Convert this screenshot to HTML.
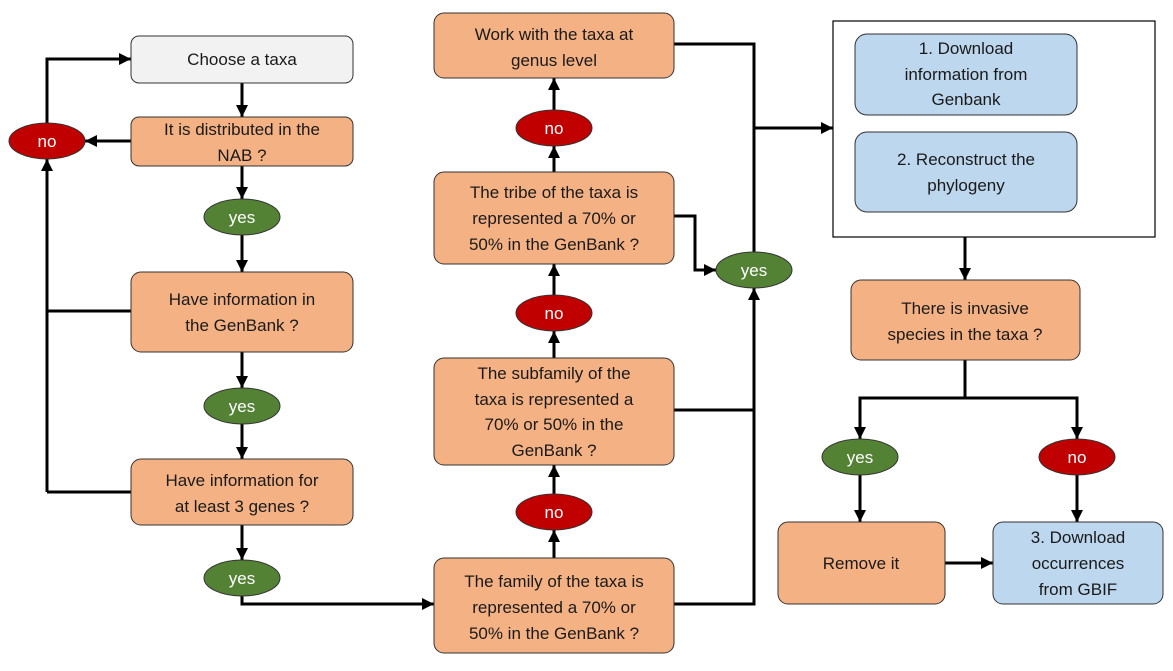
<!DOCTYPE html>
<html><head><meta charset="utf-8"><style>
html,body{margin:0;padding:0;background:#fff;}
svg{display:block;}
text{font-family:"Liberation Sans",sans-serif;font-size:17px;fill:#1a1a1a;text-anchor:middle;}
text.w{fill:#fff;}
</style></head><body>
<svg width="1173" height="671" viewBox="0 0 1173 671" xmlns="http://www.w3.org/2000/svg">
<defs>
<marker id="a" markerWidth="12" markerHeight="12" refX="12" refY="6" orient="auto" markerUnits="userSpaceOnUse">
<path d="M0,0 L12,6 L0,12 z" fill="#000"/></marker>
</defs>
<g fill="none" stroke="#000" stroke-width="3">
<path d="M47,123 V59 H131" marker-end="url(#a)"/>
<path d="M131,141 H85" marker-end="url(#a)"/>
<path d="M47,492 V159" marker-end="url(#a)"/>
<path d="M131,311 H47"/>
<path d="M131,492 H47"/>
<path d="M242,83 V117" marker-end="url(#a)"/>
<path d="M242,166 V199" marker-end="url(#a)"/>
<path d="M242,235 V272" marker-end="url(#a)"/>
<path d="M242,352 V388" marker-end="url(#a)"/>
<path d="M242,424 V459" marker-end="url(#a)"/>
<path d="M242,525 V560" marker-end="url(#a)"/>
<path d="M242,596 V604 H434" marker-end="url(#a)"/>
<path d="M554,558 V530" marker-end="url(#a)"/>
<path d="M554,494 V465" marker-end="url(#a)"/>
<path d="M554,358 V331" marker-end="url(#a)"/>
<path d="M554,295 V264" marker-end="url(#a)"/>
<path d="M554,172 V146" marker-end="url(#a)"/>
<path d="M554,110 V78" marker-end="url(#a)"/>
<path d="M674,604 H754 V288" marker-end="url(#a)"/>
<path d="M674,410 H754"/>
<path d="M674,216 H695 V270 H716" marker-end="url(#a)"/>
<path d="M754,252 V128"/>
<path d="M674,44 H754 V128 H833" marker-end="url(#a)"/>
<path d="M965,237 V280" marker-end="url(#a)"/>
<path d="M965,360 V398 M860,430 V398 H1077 V430" />
<path d="M860,415 V439" marker-end="url(#a)"/>
<path d="M1077,415 V439" marker-end="url(#a)"/>
<path d="M860,475 V522" marker-end="url(#a)"/>
<path d="M1077,475 V522" marker-end="url(#a)"/>
<path d="M945,563 H993" marker-end="url(#a)"/>
</g>
<rect x="833" y="21" width="322" height="216" fill="#fff" stroke="#000" stroke-width="1.2"/>
<g stroke="#333" stroke-width="1">
<rect x="131" y="36" width="222" height="47" rx="8" fill="#f2f2f2"/>
<rect x="131" y="117" width="222" height="49" rx="8" fill="#f4b183"/>
<rect x="131" y="272" width="222" height="80" rx="10" fill="#f4b183"/>
<rect x="131" y="459" width="222" height="66" rx="10" fill="#f4b183"/>
<rect x="434" y="558" width="240" height="95" rx="10" fill="#f4b183"/>
<rect x="434" y="358" width="240" height="107" rx="10" fill="#f4b183"/>
<rect x="434" y="172" width="240" height="92" rx="10" fill="#f4b183"/>
<rect x="434" y="13" width="240" height="65" rx="10" fill="#f4b183"/>
<rect x="855" y="34" width="222" height="81" rx="12" fill="#bdd7ee"/>
<rect x="855" y="132" width="222" height="80" rx="12" fill="#bdd7ee"/>
<rect x="851" y="280" width="229" height="80" rx="10" fill="#f4b183"/>
<rect x="778" y="522" width="167" height="82" rx="10" fill="#f4b183"/>
<rect x="993" y="522" width="170" height="82" rx="10" fill="#bdd7ee"/>
<ellipse cx="47" cy="141" rx="38" ry="18" fill="#c00000"/>
<ellipse cx="242" cy="217" rx="38" ry="18" fill="#548235"/>
<ellipse cx="242" cy="406" rx="38" ry="18" fill="#548235"/>
<ellipse cx="242" cy="578" rx="38" ry="18" fill="#548235"/>
<ellipse cx="554" cy="512" rx="38" ry="18" fill="#c00000"/>
<ellipse cx="554" cy="313" rx="38" ry="18" fill="#c00000"/>
<ellipse cx="554" cy="128" rx="38" ry="18" fill="#c00000"/>
<ellipse cx="754" cy="270" rx="38" ry="18" fill="#548235"/>
<ellipse cx="860" cy="457" rx="38" ry="18" fill="#548235"/>
<ellipse cx="1077" cy="457" rx="38" ry="18" fill="#c00000"/>
</g>
<text x="242" y="65">Choose a taxa</text>
<text x="242" y="135">It is distributed in the</text>
<text x="242" y="161">NAB ?</text>
<text x="242" y="305">Have information in</text>
<text x="242" y="331">the GenBank ?</text>
<text x="242" y="486">Have information for</text>
<text x="242" y="512">at least 3 genes ?</text>
<text x="554" y="587">The family of the taxa is</text>
<text x="554" y="613">represented a 70% or</text>
<text x="554" y="639">50% in the GenBank ?</text>
<text x="554" y="379">The subfamily of the</text>
<text x="554" y="405">taxa is represented a</text>
<text x="554" y="430">70% or 50% in the</text>
<text x="554" y="456">GenBank ?</text>
<text x="554" y="198">The tribe of the taxa is</text>
<text x="554" y="224">represented a 70% or</text>
<text x="554" y="250">50% in the GenBank ?</text>
<text x="554" y="40">Work with the taxa at</text>
<text x="554" y="66">genus level</text>
<text x="966" y="54">1. Download</text>
<text x="966" y="80">information from</text>
<text x="966" y="105">Genbank</text>
<text x="966" y="165">2. Reconstruct the</text>
<text x="966" y="191">phylogeny</text>
<text x="965" y="314">There is invasive</text>
<text x="965" y="340">species in the taxa ?</text>
<text x="861" y="569">Remove it</text>
<text x="1078" y="543">3. Download</text>
<text x="1078" y="569">occurrences</text>
<text x="1078" y="595">from GBIF</text>
<text class="w" x="47" y="147">no</text>
<text class="w" x="242" y="223">yes</text>
<text class="w" x="242" y="412">yes</text>
<text class="w" x="242" y="584">yes</text>
<text class="w" x="554" y="518">no</text>
<text class="w" x="554" y="319">no</text>
<text class="w" x="554" y="134">no</text>
<text class="w" x="754" y="276">yes</text>
<text class="w" x="860" y="463">yes</text>
<text class="w" x="1077" y="463">no</text>
</svg>
</body></html>
